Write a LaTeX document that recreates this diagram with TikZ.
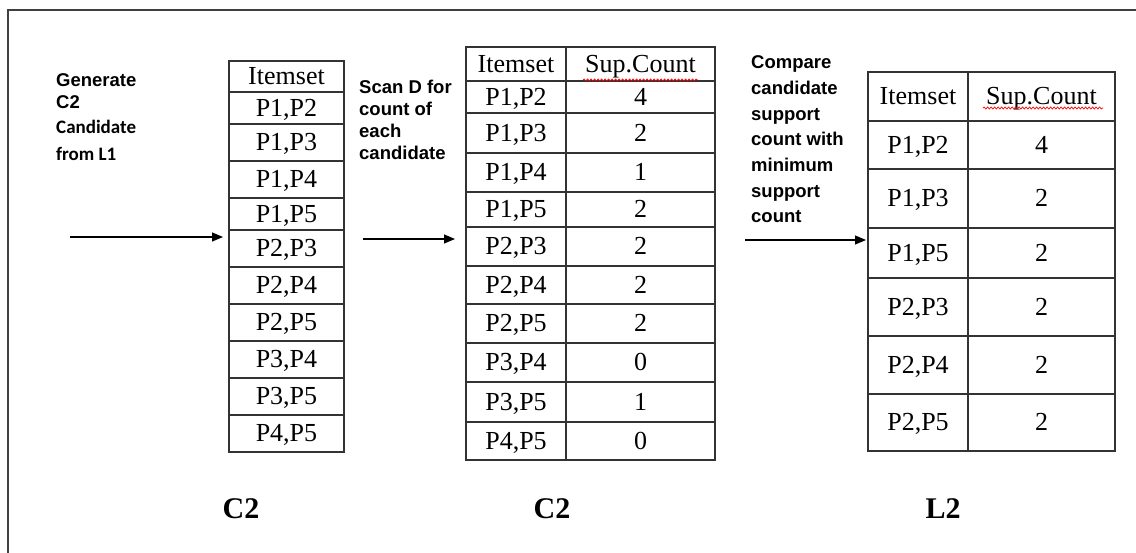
\documentclass[tikz,border=0pt]{standalone}
\usepackage{fontspec}
\setmainfont{Liberation Serif}
\newfontfamily\labfont{Liberation Sans}
\newfontfamily\calfont{Carlito}
\usetikzlibrary{arrows.meta,decorations.pathmorphing}

\tikzset{
  cellbox/.style={draw=black!80, line width=1.3pt, inner sep=0pt, text=black,
    text height=17pt, text depth=0pt,
    font=\fontsize{26}{28}\selectfont},
  note/.style={anchor=base west, inner sep=0pt,
    font=\labfont\bfseries\fontsize{18.5}{22}\selectfont},
  notesmall/.style={anchor=base west, inner sep=0pt,
    font=\calfont\bfseries\fontsize{19}{22}\selectfont},
  caption/.style={anchor=base, inner sep=0pt,
    font=\bfseries\fontsize{30}{32}\selectfont},
  flow/.style={line width=1.2pt, -{Triangle[length=11pt,width=9pt]}},
  squiggle/.style={red, line width=0.7pt, decorate,
    decoration={snake, amplitude=1pt, segment length=3.5pt}},
  frameline/.style={draw=black!75, line width=1.5pt},
}

\newcommand\cellat[6]{%
  \node[cellbox, minimum width={#4-#2}, minimum height={#5-#3}]
    (#1) at ({(#2+#4)/2},{(#3+#5)/2}) {#6};}

\begin{document}
\begin{tikzpicture}[x=1pt,y=-1pt]
\useasboundingbox (0,0) rectangle (1136,553);
\fill[white] (0,0) rectangle (1136,553);

% frame
\draw[frameline] (8,553) -- (8,10) -- (1136,10);

% ---------- Table 1 (C2) ----------
\cellat{ta0}{229}{61}{344}{92}{Itemset}
\cellat{ta1}{229}{92}{344}{124}{P1,P2}
\cellat{ta2}{229}{124}{344}{161}{P1,P3}
\cellat{ta3}{229}{161}{344}{198}{P1,P4}
\cellat{ta4}{229}{198}{344}{230}{P1,P5}
\cellat{ta5}{229}{230}{344}{267}{P2,P3}
\cellat{ta6}{229}{267}{344}{304}{P2,P4}
\cellat{ta7}{229}{304}{344}{341}{P2,P5}
\cellat{ta8}{229}{341}{344}{378}{P3,P4}
\cellat{ta9}{229}{378}{344}{415}{P3,P5}
\cellat{ta10}{229}{415}{344}{452}{P4,P5}

% ---------- Table 2 (C2 with counts) ----------
\cellat{tb0a}{466}{47}{566}{81}{Itemset}
\cellat{tb0b}{566}{47}{715}{81}{Sup.Count}
\cellat{tb1a}{466}{81}{566}{113}{P1,P2}
\cellat{tb1b}{566}{81}{715}{113}{4}
\cellat{tb2a}{466}{113}{566}{153}{P1,P3}
\cellat{tb2b}{566}{113}{715}{153}{2}
\cellat{tb3a}{466}{153}{566}{192}{P1,P4}
\cellat{tb3b}{566}{153}{715}{192}{1}
\cellat{tb4a}{466}{192}{566}{227}{P1,P5}
\cellat{tb4b}{566}{192}{715}{227}{2}
\cellat{tb5a}{466}{227}{566}{266}{P2,P3}
\cellat{tb5b}{566}{227}{715}{266}{2}
\cellat{tb6a}{466}{266}{566}{304}{P2,P4}
\cellat{tb6b}{566}{266}{715}{304}{2}
\cellat{tb7a}{466}{304}{566}{343}{P2,P5}
\cellat{tb7b}{566}{304}{715}{343}{2}
\cellat{tb8a}{466}{343}{566}{382}{P3,P4}
\cellat{tb8b}{566}{343}{715}{382}{0}
\cellat{tb9a}{466}{382}{566}{422}{P3,P5}
\cellat{tb9b}{566}{382}{715}{422}{1}
\cellat{tb10a}{466}{422}{566}{460}{P4,P5}
\cellat{tb10b}{566}{422}{715}{460}{0}

% ---------- Table 3 (L2) ----------
\cellat{tc0a}{868}{72}{968}{121}{Itemset}
\cellat{tc0b}{968}{72}{1115}{121}{Sup.Count}
\cellat{tc1a}{868}{121}{968}{169}{P1,P2}
\cellat{tc1b}{968}{121}{1115}{169}{4}
\cellat{tc2a}{868}{169}{968}{228}{P1,P3}
\cellat{tc2b}{968}{169}{1115}{228}{2}
\cellat{tc3a}{868}{228}{968}{278}{P1,P5}
\cellat{tc3b}{968}{228}{1115}{278}{2}
\cellat{tc4a}{868}{278}{968}{336}{P2,P3}
\cellat{tc4b}{968}{278}{1115}{336}{2}
\cellat{tc5a}{868}{336}{968}{394}{P2,P4}
\cellat{tc5b}{968}{336}{1115}{394}{2}
\cellat{tc6a}{868}{394}{968}{451}{P2,P5}
\cellat{tc6b}{968}{394}{1115}{451}{2}

% spell-check squiggles
\coordinate (sq1s) at (583,80);  \coordinate (sq1e) at (698,80);
\coordinate (sq2s) at (983,108); \coordinate (sq2e) at (1103,108);
\draw[squiggle] (sq1s) -- (sq1e);
\draw[squiggle] (sq2s) -- (sq2e);

% ---------- Notes ----------
\node[note] (g1) at (56,87) {Generate};
\node[note] (g2) at (56,109) {C2};
\node[notesmall] (g3) at (56,134) {Candidate};
\node[notesmall] (g4) at (56,161) {from L1};

\node[note] (s1) at (359,94) {Scan D for};
\node[note] (s2) at (359,116) {count of};
\node[note] (s3) at (359,138) {each};
\node[note] (s4) at (359,160) {candidate};

\node[note] (m1) at (751,69) {Compare};
\node[note] (m2) at (751,95) {candidate};
\node[note] (m3) at (751,121) {support};
\node[note] (m4) at (751,146) {count with};
\node[note] (m5) at (751,172) {minimum};
\node[note] (m6) at (751,198) {support};
\node[note] (m7) at (751,223) {count};

% ---------- Arrows ----------
\coordinate (a1s) at (70,237);  \coordinate (a1e) at (223,237);
\coordinate (a2s) at (363,239); \coordinate (a2e) at (455,239);
\coordinate (a3s) at (745,240); \coordinate (a3e) at (866,240);
\draw[flow] (a1s) -- (a1e);
\draw[flow] (a2s) -- (a2e);
\draw[flow] (a3s) -- (a3e);

% ---------- Captions ----------
\node[caption] (cap1) at (241,518) {C2};
\node[caption] (cap2) at (552,518) {C2};
\node[caption] (cap3) at (943,518) {L2};
\end{tikzpicture}
\end{document}
